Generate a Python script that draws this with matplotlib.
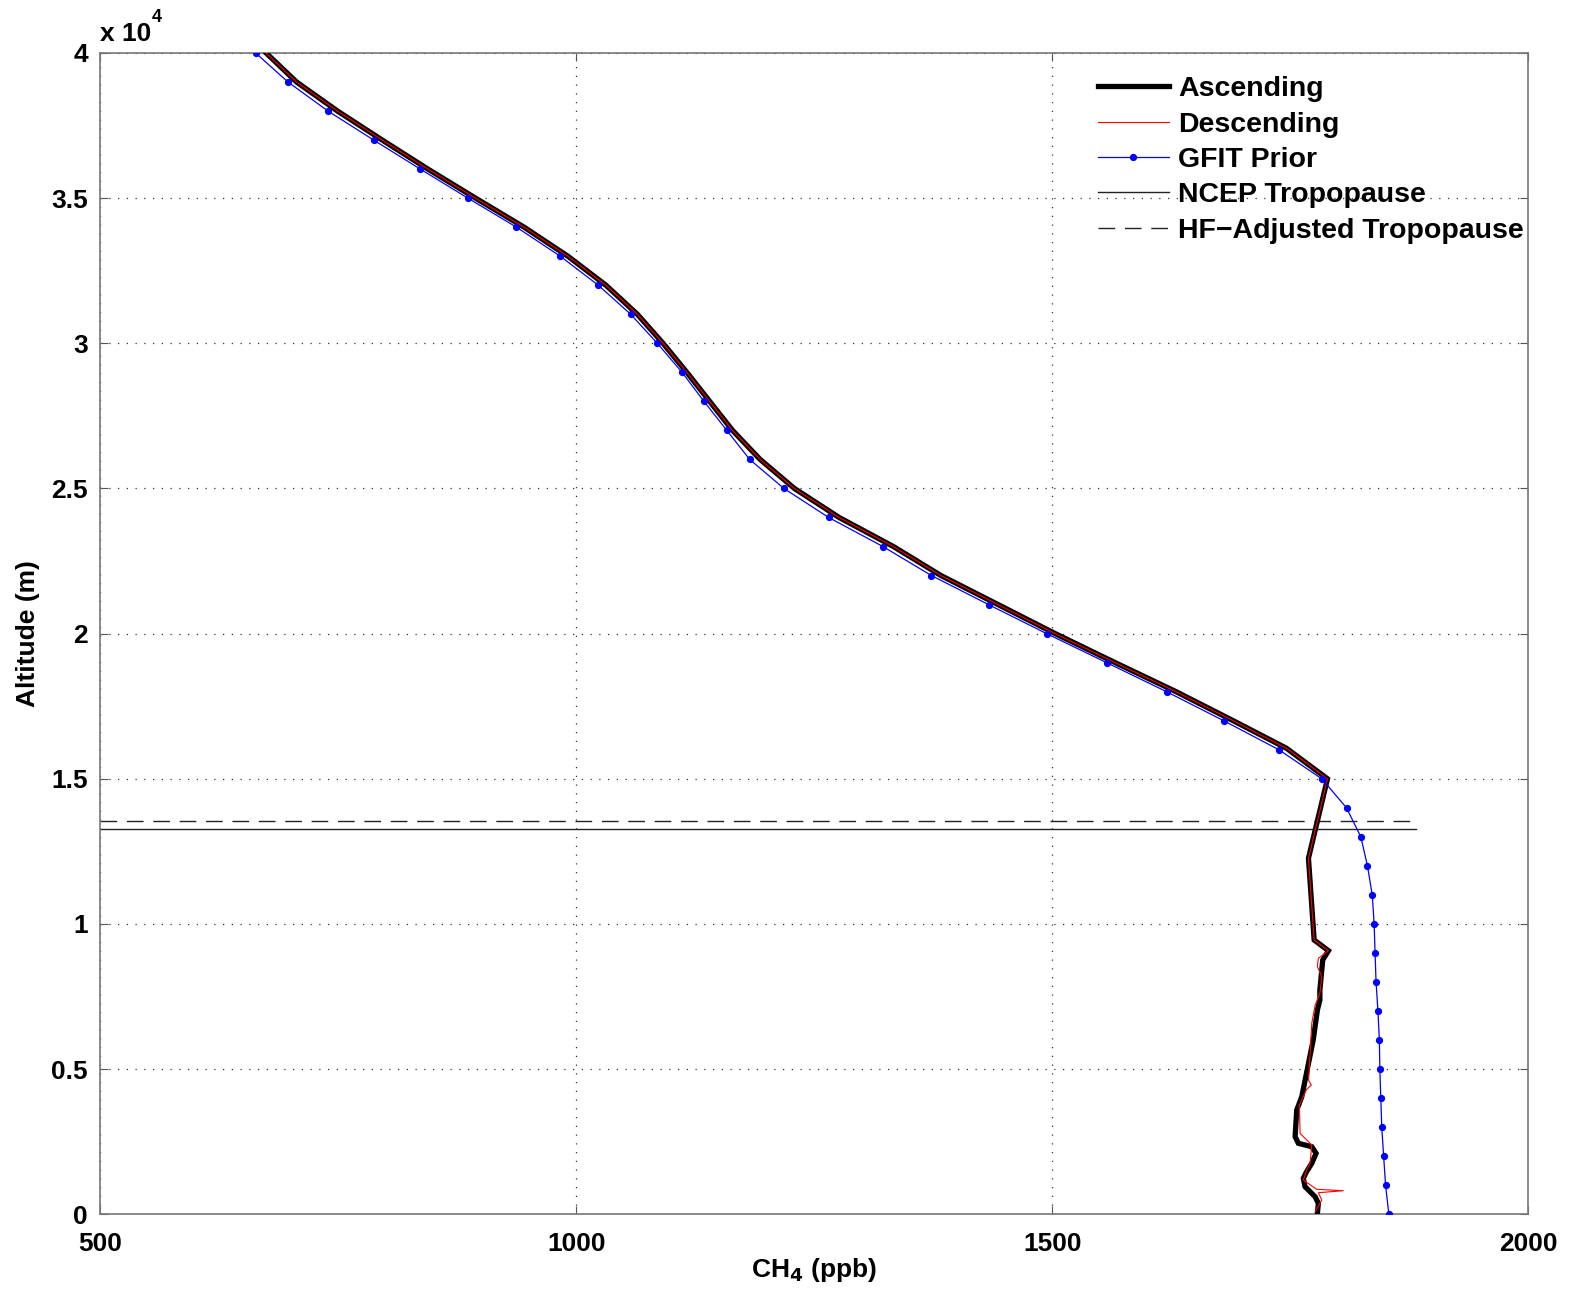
import matplotlib
matplotlib.use("Agg")
import matplotlib.pyplot as plt

plt.rcParams['font.family'] = ['Liberation Sans', 'DejaVu Sans']
plt.rcParams['font.weight'] = 'bold'

# GFIT prior (every 1000 m)
prior_alt = [40000, 39000, 38000, 37000, 36000, 35000, 34000, 33000, 32000, 31000,
             30000, 29000, 28000, 27000, 26000, 25000, 24000, 23000, 22000, 21000,
             20000, 19000, 18000, 17000, 16000, 15000, 14000, 13000, 12000, 11000,
             10000, 9000, 8000, 7000, 6000, 5000, 4000, 3000, 2000, 1000, 0]
prior_ch4 = [663, 697, 739, 787, 836, 886, 937, 983, 1023, 1057,
             1085, 1111, 1134, 1158, 1182, 1218, 1265, 1322, 1373, 1433,
             1494, 1557, 1620, 1680, 1738, 1783, 1809, 1824, 1831, 1836,
             1838, 1839, 1840, 1842, 1843.5, 1844, 1845, 1846, 1848, 1850, 1853.5]

# Ascending profile
asc_alt = [40000, 39000, 38000, 37000, 36000, 35000, 34000, 33000, 32000, 31000,
           30000, 29000, 28000, 27000, 26000, 25000, 24000, 23000, 22000, 21000,
           20000, 19000, 18000, 17000, 16050, 15000, 12262, 9448, 9080, 8759,
           7726, 7381, 7037, 6004, 4867, 4051, 3592, 2673, 2446, 2328,
           2101, 1757, 1467, 1240, 951, 606, 379, 34]
asc_ch4 = [674, 706, 749, 796, 844, 894, 945, 991, 1031, 1064,
           1091, 1116, 1140, 1164, 1193, 1229, 1276, 1333, 1383, 1443,
           1503, 1566, 1630, 1690, 1746, 1789, 1769, 1775, 1790, 1784,
           1781, 1781, 1778.4, 1774, 1767, 1762, 1756.7, 1755, 1758.4, 1772.5,
           1777, 1772.5, 1767, 1763.6, 1765.4, 1776, 1779.4, 1778.4]

# Descending profile
desc_alt = [40000, 39000, 38000, 37000, 36000, 35000, 34000, 33000, 32000, 31000,
            30000, 29000, 28000, 27000, 26000, 25000, 24000, 23000, 22000, 21000,
            20000, 19000, 18000, 17000, 16050, 15000, 12262, 9448, 9080, 8818,
            8529, 8184, 7612, 7200, 6579, 4800, 4626, 4450, 4300, 3765, 2790, 2387,
            1757, 1526, 1181, 861, 813, 744, 493, 90]
desc_ch4 = [674, 706, 749, 796, 844, 894, 945, 991, 1031, 1064,
            1091, 1116, 1140, 1164, 1193, 1229, 1276, 1333, 1383, 1443,
            1503, 1566, 1630, 1690, 1746, 1789, 1769, 1775, 1790, 1779.4,
            1778.4, 1783, 1781, 1776, 1772.5, 1769.5, 1769, 1772, 1767, 1759.5, 1760.2, 1772.5,
            1770.7, 1767.2, 1763.6, 1777.7, 1805.6, 1779.4, 1783, 1776]

ncep_trop = 13280
hf_trop = 13545
trop_x = [500, 1882]

xticks = [500, 1000, 1500, 2000]
yticks = [0, 5000, 10000, 15000, 20000, 25000, 30000, 35000, 40000]
ytick_labels = ['0', '0.5', '1', '1.5', '2', '2.5', '3', '3.5', '4']

fig = plt.figure(figsize=(15.74, 12.91), dpi=100)
ax = fig.add_axes([0.0638, 0.0594, 0.9072, 0.8996])

ax.plot(asc_ch4, asc_alt, color='black', lw=3.8, solid_joinstyle='miter', label='Ascending', zorder=3)
ax.plot(desc_ch4, desc_alt, color='#ff0000', lw=0.8, label='Descending', zorder=4)
ax.plot(prior_ch4, prior_alt, color='#0000ff', lw=0.9, marker='o', markersize=4.2,
        label='GFIT Prior', zorder=5)
ax.plot(trop_x, [ncep_trop, ncep_trop], color='#222222', lw=1.0, label='NCEP Tropopause', zorder=2)
ax.plot(trop_x, [hf_trop, hf_trop], color='#222222', lw=1.0, dashes=(12, 7),
        label='HF\u2212Adjusted Tropopause', zorder=2)

ax.set_xlim(500, 2000)
ax.set_ylim(0, 40000)
ax.set_xticks(xticks)
ax.set_xticklabels([str(v) for v in xticks])
ax.set_yticks(yticks)
ax.set_yticklabels(ytick_labels)
ax.tick_params(axis='both', direction='in', length=6, width=0.8, color='#555555',
               labelsize=19, top=True, right=True)
ax.tick_params(axis='x', pad=13)
ax.tick_params(axis='y', pad=9)
for lab in ax.get_xticklabels() + ax.get_yticklabels():
    lab.set_fontweight('bold')

ax.grid(True, linestyle=(0, (1, 6)), color='#333333', linewidth=0.9)
for s in ax.spines.values():
    s.set_color('#777777')
    s.set_linewidth(1.2)

ax.set_xlabel('CH$_\\mathbf{4}$ (ppb)', fontsize=19, fontweight='bold', labelpad=0)
ax.set_ylabel('Altitude (m)', fontsize=19, fontweight='bold', labelpad=8)

fig.text(100 / 1574, 1 - 34 / 1291, 'x 10', fontsize=19, fontweight='bold', va='center', ha='left')
fig.text(152 / 1574, 1 - 17 / 1291, '4', fontsize=13, fontweight='bold', va='center', ha='left')

leg = ax.legend(loc='upper left', bbox_to_anchor=(0.6985, 0.98), frameon=False,
                fontsize=20.5, handlelength=2.5, handletextpad=0.33, labelspacing=0.33,
                borderpad=0, borderaxespad=0)
for t in leg.get_texts():
    t.set_fontweight('bold')

fig.savefig('out.png', dpi=100)
